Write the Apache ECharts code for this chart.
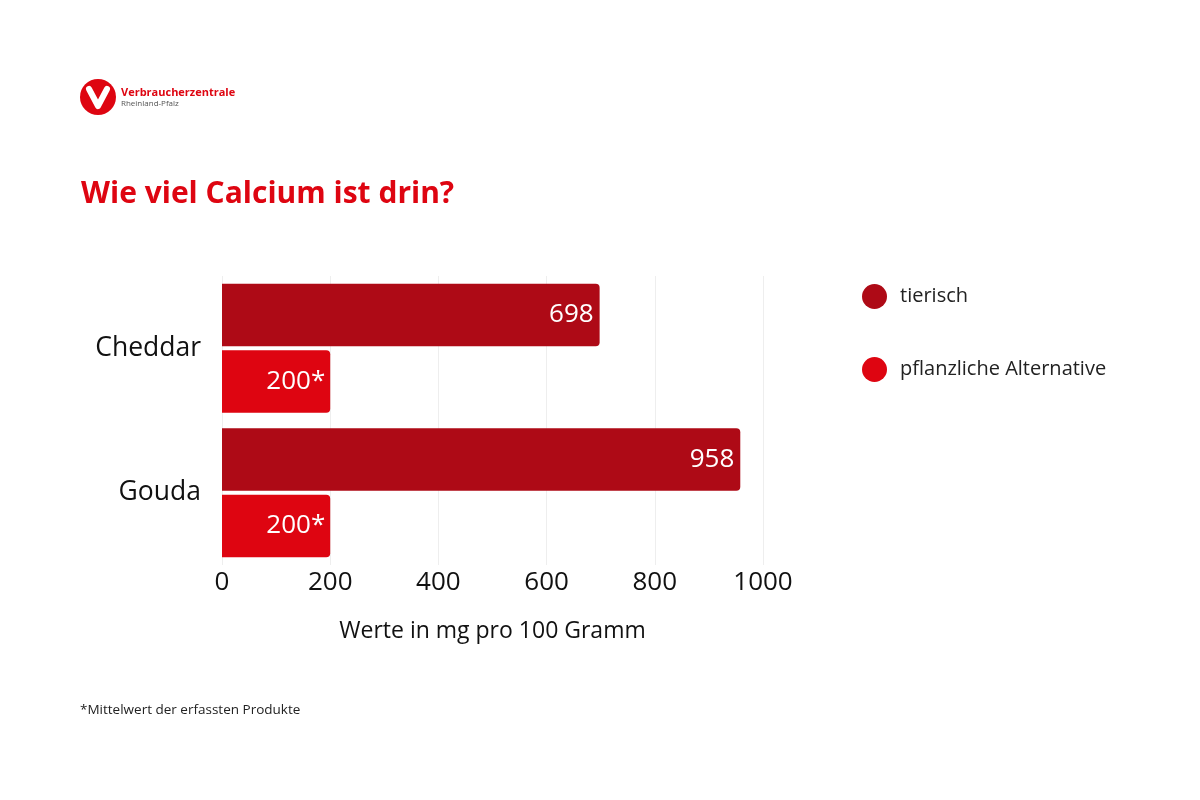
<!DOCTYPE html>
<html><head><meta charset="utf-8">
<script src="https://cdn.jsdelivr.net/npm/echarts@6/dist/echarts.min.js"></script>
<style>html,body{margin:0;padding:0;background:#fff}#c{width:1200px;height:800px}</style>
</head><body><div id="c"></div>
<script>
const categories = ['Cheddar', 'Gouda'];
const seriesNames = ['tierisch', 'pflanzliche Alternative'];
const tierisch = [698, 958];
const pflanzlich = [200, 200];
const pflanzlichLabels = ['200*', '200*'];
const xTicks = [0, 200, 400, 600, 800, 1000];

const FONT = '"Open Sans", "Noto Sans", sans-serif';
const chart = echarts.init(document.getElementById('c'));
chart.setOption({
  backgroundColor: '#fff',
  animation: false,
  title: {
    text: 'Wie viel Calcium ist drin?',
    left: 76, top: 174,
    textStyle: { color: '#DE0511', fontSize: 30, fontWeight: 'bold', fontFamily: FONT }
  },
  graphic: [
    { type: 'circle', shape: { cx: 98, cy: 97, r: 18 }, style: { fill: '#DE0511' } },
    { type: 'polyline', shape: { points: [[89, 89], [98, 106], [107, 89]] },
      style: { stroke: '#fff', lineWidth: 6, fill: null, lineCap: 'round', lineJoin: 'round' } },
    { type: 'text', left: 121, top: 87, style: { text: 'Verbraucherzentrale', fill: '#DE0511', font: 'bold 11px ' + FONT } },
    { type: 'text', left: 121, top: 100, style: { text: 'Rheinland-Pfalz', fill: '#555', font: '8px ' + FONT } },
    { type: 'text', left: 80, top: 703, style: { text: '*Mittelwert der erfassten Produkte', fill: '#222', font: '13.5px ' + FONT } }
  ],
  legend: {
    orient: 'vertical', left: 857, top: 279,
    icon: 'circle', itemWidth: 25, itemHeight: 25, itemGap: 48,
    textStyle: { fontSize: 20, color: '#222', fontFamily: FONT, padding: [0, 0, 0, 8] },
    data: seriesNames
  },
  grid: { left: 222, right: 437, top: 276, bottom: 235, containLabel: false },
  xAxis: {
    type: 'value', min: 0, max: 1000, interval: 200,
    axisLine: { show: false }, axisTick: { show: false },
    splitLine: { show: true, lineStyle: { color: '#eeeeee', width: 1 } },
    axisLabel: { fontSize: 26, color: '#111', fontFamily: FONT, margin: 5,
      formatter: v => xTicks.includes(v) ? String(v) : '' },
    name: 'Werte in mg pro 100 Gramm', nameLocation: 'middle', nameGap: 55,
    nameTextStyle: { fontSize: 23, color: '#111', fontFamily: FONT }
  },
  yAxis: {
    type: 'category', data: categories, inverse: true,
    axisLine: { show: false }, axisTick: { show: false },
    axisLabel: { fontSize: 26.5, color: '#111', fontFamily: FONT, margin: 21, padding: [12, 0, 0, 0] }
  },
  series: [
    { name: seriesNames[0], type: 'bar', data: tierisch, barCategoryGap: '10.7%', barGap: '6%',
      itemStyle: { color: '#AE0A16', borderRadius: [0, 4, 4, 0] },
      label: { show: true, position: 'insideRight', color: '#fff', fontSize: 26, fontFamily: FONT, distance: 6, padding: [5, 0, 0, 0] } },
    { name: seriesNames[1], type: 'bar', data: pflanzlich,
      itemStyle: { color: '#DE0511', borderRadius: [0, 4, 4, 0] },
      label: { show: true, position: 'insideRight', color: '#fff', fontSize: 26, fontFamily: FONT, distance: 5, padding: [5, 0, 0, 0],
        formatter: p => pflanzlichLabels[p.dataIndex] } }
  ]
});
</script></body></html>
